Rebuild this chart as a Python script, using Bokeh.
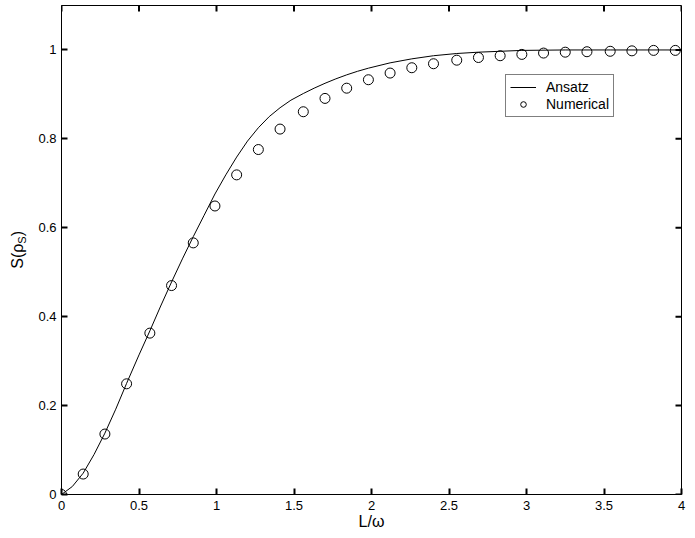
import math
from bokeh.plotting import figure
from bokeh.layouts import row
from bokeh.models import Range1d, FixedTicker, Legend, LegendItem, Div
from bokeh.embed import file_html
from bokeh.resources import INLINE

# Numerical data (circles)
num_x = [0, 0.14, 0.28, 0.42, 0.57, 0.71, 0.85, 0.99, 1.13, 1.27, 1.41, 1.56, 1.70, 1.84,
         1.98, 2.12, 2.26, 2.40, 2.55, 2.69, 2.83, 2.97, 3.11, 3.25, 3.39, 3.54, 3.68, 3.82, 3.96]
num_y = [0, 0.046, 0.136, 0.249, 0.363, 0.470, 0.566, 0.649, 0.719, 0.776, 0.822, 0.861, 0.891, 0.914,
         0.933, 0.948, 0.960, 0.969, 0.977, 0.983, 0.987, 0.990, 0.993, 0.995, 0.996, 0.997, 0.998, 0.999, 0.999]

# Ansatz curve
ans_x = [0, 0.07, 0.14, 0.21, 0.28, 0.35, 0.42, 0.50, 0.57, 0.64, 0.71, 0.78, 0.85, 0.92, 0.99,
         1.06, 1.13, 1.20, 1.27, 1.34, 1.41, 1.48, 1.56, 1.63, 1.70, 1.77, 1.84, 1.91, 1.98, 2.12,
         2.26, 2.40, 2.55, 2.69, 2.83, 2.97, 3.25, 3.54, 4.0]
ans_y = [0, 0.018, 0.048, 0.090, 0.138, 0.192, 0.250, 0.314, 0.368, 0.424, 0.478, 0.530, 0.580,
         0.628, 0.676, 0.719, 0.759, 0.795, 0.825, 0.850, 0.870, 0.887, 0.902, 0.914, 0.925, 0.935,
         0.944, 0.952, 0.959, 0.971, 0.980, 0.987, 0.992, 0.995, 0.997, 0.999, 1.0, 1.0, 1.0]

x_ticks = [0, 0.5, 1, 1.5, 2, 2.5, 3, 3.5, 4]
x_tick_labels = ["0", "0.5", "1", "1.5", "2", "2.5", "3", "3.5", "4"]
y_ticks = [0, 0.2, 0.4, 0.6, 0.8, 1.0]
y_tick_labels = ["0", "0.2", "0.4", "0.6", "0.8", "1"]

FONT = "Liberation Sans"
X0, X1, Y0, Y1 = 0, 4, 0, 1.1
TICK_PX = 6
TICK_W = 2

# page geometry (pixels)
TOTAL_W, H = 692, 536
DIV_W = 30
F_LEFT, F_RIGHT, F_TOP, F_BOTTOM = 61, 681, 5, 494

W = TOTAL_W - DIV_W
p = figure(width=W, height=H, x_range=Range1d(X0, X1), y_range=Range1d(Y0, Y1),
           output_backend="svg", toolbar_location=None,
           min_border_left=F_LEFT - DIV_W, min_border_right=TOTAL_W - F_RIGHT,
           min_border_top=F_TOP, min_border_bottom=H - F_BOTTOM)
p.grid.visible = False
p.outline_line_color = "black"
p.background_fill_color = "white"
p.border_fill_color = "white"

def style_axis(ax, ticks, labels):
    ax.ticker = FixedTicker(ticks=ticks)
    ax.major_label_overrides = {t: l for t, l in zip(ticks, labels)}
    ax.major_tick_in = TICK_PX
    ax.major_tick_out = 0
    ax.minor_tick_in = 0
    ax.minor_tick_out = 0
    ax.axis_line_color = "black"
    ax.major_tick_line_color = "black"
    ax.major_tick_line_width = TICK_W
    ax.major_label_text_font = FONT
    ax.major_label_text_color = "black"
    ax.major_label_text_font_size = "13px"

xa = p.xaxis[0]
style_axis(xa, x_ticks, x_tick_labels)
xa.major_label_standoff = 6
xa.axis_label = "L/ω"
xa.axis_label_text_font = FONT
xa.axis_label_text_font_size = "16px"
xa.axis_label_text_font_style = "normal"
xa.axis_label_text_color = "black"
xa.axis_label_standoff = 0

ya = p.yaxis[0]
style_axis(ya, y_ticks, y_tick_labels)
ya.major_label_standoff = 5

# inward ticks on the top and right edges: short dash markers placed just inside the frame
sx_per = (F_RIGHT - F_LEFT) / (X1 - X0)
sy_per = (F_BOTTOM - F_TOP) / (Y1 - Y0)
half = TICK_PX / 2
p.scatter(x=x_ticks, y=[Y1 - half / sy_per] * len(x_ticks), marker="dash",
          size=TICK_PX, angle=math.pi / 2, line_color="black", line_width=TICK_W)
p.scatter(x=[X1 - half / sx_per] * len(y_ticks), y=y_ticks, marker="dash",
          size=TICK_PX, line_color="black", line_width=TICK_W)

r_line = p.line(ans_x, ans_y, line_color="black", line_width=1)
r_pts = p.scatter(num_x, num_y, marker="circle", size=10, fill_color=None,
                  line_color="black", line_width=1)

legend = Legend(items=[LegendItem(label="Ansatz", renderers=[r_line]),
                       LegendItem(label="Numerical", renderers=[r_pts])],
                location=(444, 377))
legend.label_text_font = FONT
legend.label_text_font_size = "14px"
legend.label_text_color = "black"
legend.glyph_width = 26
legend.glyph_height = 14
legend.label_height = 14
legend.label_standoff = 10
legend.spacing = 1
legend.padding = 4
legend.margin = 0
legend.border_line_color = "black"
legend.border_line_width = 1
legend.background_fill_color = "white"
legend.background_fill_alpha = 1
p.add_layout(legend, "center")

# y-axis label S(rho_S) as real HTML text, rotated to read bottom-to-top
label_len = 38
top_px = (F_TOP + F_BOTTOM) / 2 - label_len / 2
y_label_html = (
    f'<div style="position:relative;width:{DIV_W}px;height:{H}px;margin:0;padding:0;">'
    f'<div style="position:absolute;left:10px;top:{top_px:.1f}px;writing-mode:vertical-rl;'
    f'transform:rotate(180deg);font-family:\'{FONT}\';font-size:16px;line-height:16px;'
    f'color:#000;white-space:nowrap;">'
    f'S(ρ<sub style="font-size:11px;">S</sub>)</div></div>'
)
ylab = Div(text=y_label_html, width=DIV_W, height=H, margin=0)

layout = row(ylab, p, spacing=0)
open("out.html", "w").write(file_html(layout, INLINE))
